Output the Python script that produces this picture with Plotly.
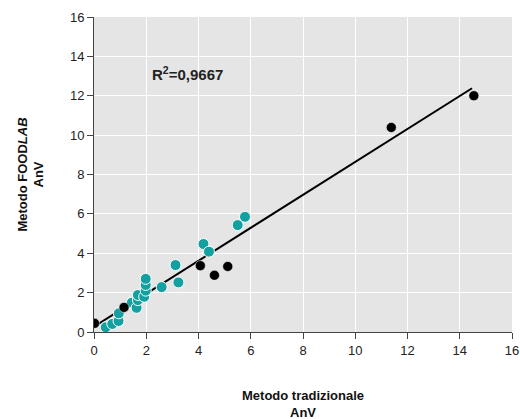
import plotly.graph_objects as go

# Data
teal_x = [0.45, 0.70, 0.94, 0.95, 1.45, 1.63, 1.68, 1.68, 1.92, 1.98, 1.98, 1.98, 2.59, 3.12, 3.23, 4.19, 4.40, 5.50, 5.78]
teal_y = [0.24, 0.41, 0.56, 0.95, 1.49, 1.23, 1.62, 1.88, 1.79, 2.10, 2.39, 2.70, 2.28, 3.40, 2.52, 4.47, 4.08, 5.43, 5.85]
black_x = [0.02, 1.15, 4.07, 4.61, 5.12, 11.38, 14.54]
black_y = [0.44, 1.25, 3.37, 2.88, 3.33, 10.39, 12.00]
fit_x = [0.0, 14.47]
fit_y = [0.27, 12.38]
tick_vals = [0, 2, 4, 6, 8, 10, 12, 14, 16]
r2_text = "R<sup>2</sup>=0,9667"
x_title = "Metodo tradizionale<br>AnV"
y_title = "Metodo FOOD<i>LAB</i><br>AnV"

FONT = "Liberation Sans Narrow, Arial Narrow, Liberation Sans, Arial, sans-serif"

fig = go.Figure()
fig.add_trace(go.Scatter(x=fit_x, y=fit_y, mode="lines",
                         line=dict(color="black", width=2), showlegend=False, hoverinfo="skip"))
fig.add_trace(go.Scatter(x=teal_x, y=teal_y, mode="markers",
                         marker=dict(color="#12a0a0", size=11, line=dict(color="white", width=1)),
                         showlegend=False))
fig.add_trace(go.Scatter(x=black_x, y=black_y, mode="markers",
                         marker=dict(color="black", size=10, line=dict(color="white", width=0.5)),
                         showlegend=False))

fig.add_annotation(x=2.16, y=13.15, xref="x", yref="y", text="<b>" + r2_text + "</b>",
                   showarrow=False, xanchor="left", yanchor="middle",
                   font=dict(family=FONT, size=15, color="#222"))

# axis titles as annotations (paper coords)
fig.add_annotation(x=0.5, y=-0.172, xref="paper", yref="paper", text="<b>" + x_title + "</b>",
                   showarrow=False, xanchor="center", yanchor="top",
                   font=dict(family=FONT, size=13, color="#111"))
fig.add_annotation(x=-0.153, y=0.5, xref="paper", yref="paper", text="<b>" + y_title + "</b>",
                   showarrow=False, xanchor="center", yanchor="middle", textangle=-90,
                   font=dict(family=FONT, size=13, color="#111"))

axis_common = dict(range=[0, 16], tickvals=tick_vals, showgrid=True, gridcolor="white", gridwidth=1.2,
                   showline=True, linecolor="#444", linewidth=1, ticks="outside", ticklen=6,
                   tickcolor="#444", zeroline=False, automargin=False,
                   tickfont=dict(family=FONT, size=13, color="#222"))

fig.update_layout(
    width=520, height=419,
    margin=dict(l=94, r=8, t=17, b=87),
    plot_bgcolor="#e5e5e5", paper_bgcolor="white",
    xaxis=dict(**axis_common),
    yaxis=dict(**axis_common),
)

# remove the default page body margin so the figure fills the window exactly
fig.write_html("out.html", config={"displayModeBar": False},
               post_script="document.body.style.margin='0';")
